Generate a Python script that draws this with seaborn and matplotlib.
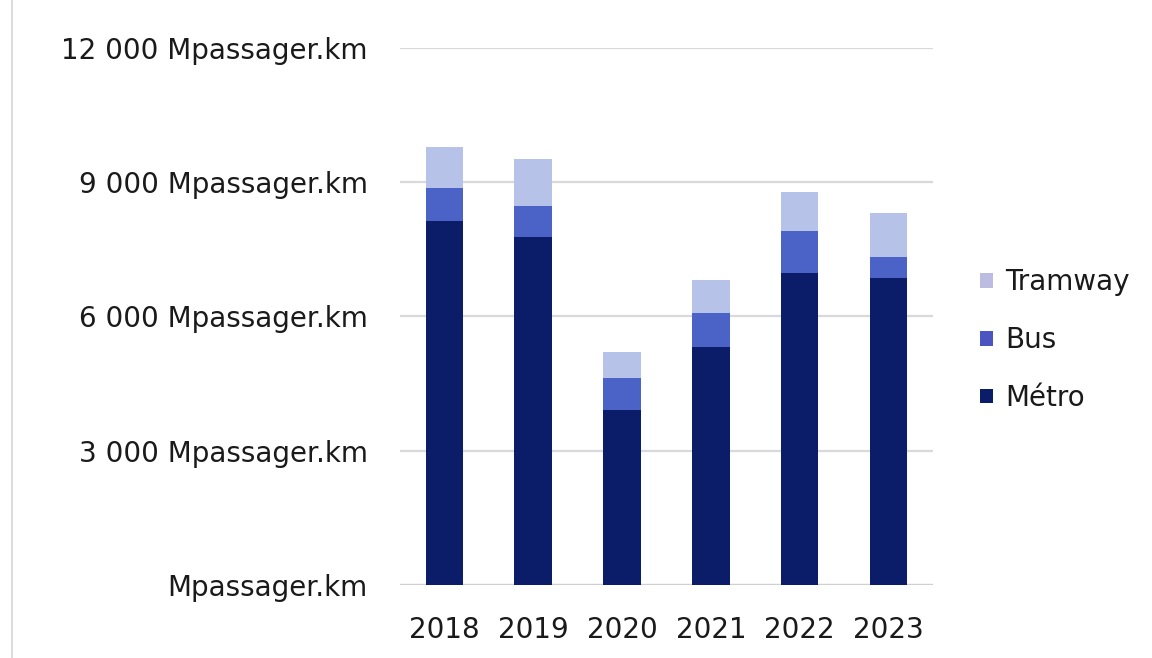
import matplotlib
matplotlib.use("Agg")
import matplotlib.pyplot as plt
from matplotlib.lines import Line2D
from matplotlib.patches import Patch
import seaborn as sns
import pandas as pd

# Passenger-kilometres by mode (millions)
years = ["2018", "2019", "2020", "2021", "2022", "2023"]
metro = [8134, 7777, 3911, 5318, 6972, 6860]
bus = [738, 692, 715, 760, 939, 470]
tramway = [916, 1051, 581, 738, 871, 983]

modes = ["Tramway", "Bus", "Métro"]
colors = {"Métro": "#0b1c68", "Bus": "#4b63c6", "Tramway": "#b7c2e8"}
legend_colors = {"Métro": "#0b1c68", "Bus": "#4b55c2", "Tramway": "#bcbce0"}
yticks = [0, 3000, 6000, 9000, 12000]

sns.set_theme(style="white")
plt.rcParams["font.family"] = ["DejaVu Sans"]
FS = 20

df = pd.DataFrame({"year": years, "Métro": metro, "Bus": bus, "Tramway": tramway})
df["cum_metro"] = df["Métro"]
df["cum_bus"] = df["cum_metro"] + df["Bus"]
df["cum_tram"] = df["cum_bus"] + df["Tramway"]

fig = plt.figure(figsize=(11.52, 6.58), dpi=100)
ax = fig.add_axes([0.347, 0.111, 0.463, 0.816])

# Stacked bars drawn as overlapping cumulative totals, tallest first
for col, mode in [("cum_tram", "Tramway"), ("cum_bus", "Bus"), ("cum_metro", "Métro")]:
    sns.barplot(data=df, x="year", y=col, color=colors[mode], width=0.42,
                saturation=1, ax=ax, zorder=3, edgecolor="none", linewidth=0)

ax.set_ylim(0, 12000)
ax.set_xlim(-0.5, 5.5)
ax.set_yticks(yticks)
ax.set_yticklabels(["Mpassager.km" if v == 0 else f"{v:,}".replace(",", " ") + " Mpassager.km"
                    for v in yticks])
ax.yaxis.grid(True, color="#d9d9d9", linewidth=1.6, zorder=0)
ax.set_axisbelow(True)
for s in ["top", "right", "left", "bottom"]:
    ax.spines[s].set_visible(False)
ax.axhline(0, color="#d0d0d0", linewidth=1.6, zorder=1)
ax.set_xlabel("")
ax.set_ylabel("")
ax.tick_params(axis="y", length=0, pad=23, labelsize=FS, labelcolor="#1a1a1a")
ax.tick_params(axis="x", length=0, pad=22, labelsize=FS, labelcolor="#1a1a1a")

handles = [Patch(facecolor=legend_colors[m], edgecolor="none") for m in modes]
leg = fig.legend(handles, modes, loc="center left", bbox_to_anchor=(0.851, 0.483),
                 frameon=False, fontsize=FS, handlelength=0.45, handleheight=0.45,
                 handletextpad=0.45, labelspacing=1.07, borderpad=0, borderaxespad=0)
for t in leg.get_texts():
    t.set_color("#1a1a1a")

# Thin border line on the left edge
fig.add_artist(Line2D([0.0105, 0.0105], [0.0, 1.0], transform=fig.transFigure,
                      color="#d6d6d6", linewidth=1.2))

fig.savefig("out.png", dpi=100, facecolor="white")
